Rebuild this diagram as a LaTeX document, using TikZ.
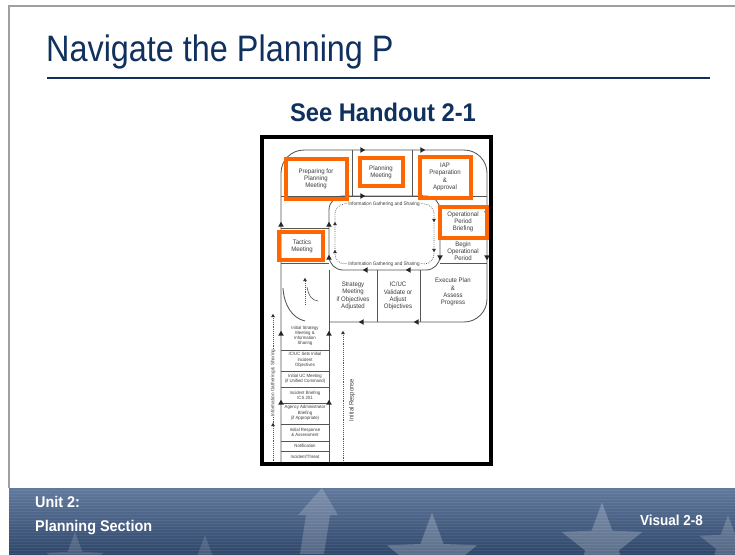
\documentclass[tikz,border=0pt]{standalone}
\usepackage{fontspec}
\setmainfont{Liberation Sans}
\newfontfamily\narrowf[FakeStretch=0.88]{Liberation Sans}
\newfontfamily\semif[FakeStretch=0.93]{Liberation Sans}
\usetikzlibrary{shapes.geometric}
\definecolor{navy}{RGB}{16,48,94}
\definecolor{orng}{RGB}{255,102,0}
\definecolor{ln}{RGB}{85,85,85}
\definecolor{txg}{RGB}{60,60,60}
\definecolor{ftblue}{RGB}{58,88,132}
\begin{document}
\begin{tikzpicture}[x=1pt,y=-1pt,
  pl/.style={draw=ln,line width=0.85pt},
  dotl/.style={draw=ln,line width=0.7pt,dash pattern=on 0.7pt off 1.2pt},
  ob/.style={draw=orng,line width=3.6pt},
  ct/.style={font=\semif\fontsize{6.5}{7.3}\selectfont,text=txg,align=center,inner sep=0pt},
  st/.style={font=\semif\fontsize{4.6}{5.2}\selectfont,text=txg,align=center,inner sep=0pt},
  rt/.style={font=\semif\fontsize{5}{5}\selectfont,text=txg,inner sep=0.8pt,fill=white},
  tri/.pic={\fill[black!85] (0:3.2) -- (120:3.2) -- (240:3.2) -- cycle;},
  stri/.pic={\fill[black!80] (0:2.2) -- (120:2.2) -- (240:2.2) -- cycle;},
  ftxt/.style={text=white,font=\semif\bfseries\fontsize{15.5}{15.5}\selectfont,inner sep=0pt}
]
\useasboundingbox (0,0) rectangle (735,554);
\fill[white] (0,0) rectangle (735,554);

% slide frame
\draw[gray!75,line width=2pt] (9,488) -- (9,6) -- (736,6);

% title
\node[anchor=west,text=navy,font=\narrowf\fontsize{36.8}{36.8}\selectfont,inner sep=0pt] (title) at (46,52) {Navigate the Planning P};
\draw[navy,line width=2.5pt] (47,78) -- (710,78);
\node[text=navy,font=\semif\bfseries\fontsize{25.5}{25.5}\selectfont,inner sep=0pt] (handout) at (383,112) {See Handout 2-1};

% ---------- Planning P image ----------
% outer P
\draw[pl,rounded corners=23pt] (281,462) -- (281,150) -- (487,150) -- (487,322) -- (329,322);
\draw[pl] (329,270) -- (329,462);
% hole
\draw[pl,rounded corners=14pt] (329,196) rectangle (440,270);
% top row
\draw[pl] (281,196) -- (487,196);
\draw[pl] (352,150) -- (352,196);
\draw[pl] (412,150) -- (412,196);
% left column
\draw[pl] (281,228) -- (329,228);
\draw[pl] (281,263) -- (329,263);
% right column
\draw[pl] (440,239) -- (487,239);
\draw[pl] (440,263) -- (487,263);
% bottom row
\draw[pl] (377,270) -- (377,322);
\draw[pl] (420,270) -- (420,322);
% stem rows
\foreach \yy in {350,371,387,403,424,441,451} \draw[pl] (281,\yy) -- (329,\yy);

% dotted inner ring
\draw[dotl,rounded corners=10pt] (335,204) rectangle (434,264);
\node[rt] (igs1) at (384,204) {\textendash{} Information Gathering and Sharing \textendash};
\node[rt] (igs2) at (384,264) {\textendash{} Information Gathering and Sharing \textendash};

% side dotted lines
\draw[dotl] (273,316) -- (273,462);
\draw[dotl] (343,333) -- (343,462);
\node[rt,rotate=90] (igs3) at (273,383) {Information Gathering \& Sharing};
\node[rt,rotate=90,font=\semif\fontsize{6.4}{6.4}\selectfont] (ir) at (352,400) {Initial Response};

% small graph icon
\draw[dotl] (305,281) -- (305,305);
\draw[ln,line width=0.6pt] (307,287) .. controls (309,297) and (312,300) .. (318,301);
\draw[pl] (283,288) .. controls (284,305) and (292,318) .. (305,321);
\pic[rotate=90] at (305,280) {stri};

% arrows
\pic at (362,150) {tri};
\pic at (422,150) {tri};
\pic at (362,196) {tri};
\pic at (420,196) {tri};
\pic[rotate=90] at (281,225) {tri};
\pic[rotate=90] at (329,225) {tri};
\pic[rotate=90] at (329,258) {tri};
\pic[rotate=90] at (335,224) {stri};
\pic[rotate=90] at (335,252) {stri};
\pic[rotate=-90] at (434,220) {stri};
\pic[rotate=-90] at (434,250) {stri};
\pic[rotate=-90] at (440,257) {tri};
\pic[rotate=-90] at (487,257) {tri};
\pic[rotate=-90] at (487,213) {tri};
\pic[rotate=180] at (366,270) {tri};
\pic[rotate=180] at (409,270) {tri};
\pic[rotate=180] at (362,322) {tri};
\pic[rotate=180] at (417,322) {tri};
\pic[rotate=90] at (281,334) {tri};
\pic[rotate=90] at (329,334) {tri};
\pic[rotate=90] at (281,403) {tri};
\pic[rotate=90] at (329,403) {tri};
\pic[rotate=90] at (273,316) {stri};
\pic[rotate=90] at (273,425) {stri};
\pic[rotate=90] at (343,333) {stri};

% cell texts
\node[ct] (prep) at (316,179) {Preparing for\\Planning\\Meeting};
\node[ct] (plan) at (381,172) {Planning\\Meeting};
\node[ct] (iap) at (445,177) {IAP\\Preparation\\\&\\Approval};
\node[ct] (opb) at (463,222) {Operational\\Period\\Briefing};
\node[ct] (bop) at (463,251) {Begin\\Operational\\Period};
\node[ct] (tac) at (302,246) {Tactics\\Meeting};
\node[ct] (strat) at (353,296) {Strategy\\Meeting\\if Objectives\\Adjusted};
\node[ct] (icuc) at (398,296) {IC/UC\\Validate or\\Adjust\\Objectives};
\node[ct] (exec) at (453,292) {Execute Plan\\\&\\Assess\\Progress};
% stem texts
\node[st] (s1) at (305,336) {Initial Strategy\\Meeting \&\\Information\\Sharing};
\node[st] (s2) at (305,360) {IC/UC Sets Initial\\Incident\\Objectives};
\node[st] (s3) at (305,379) {Initial UC Meeting\\(if Unified Command)};
\node[st] (s4) at (305,395) {Incident Briefing\\ICS 201};
\node[st] (s5) at (305,413) {Agency Administrator\\Briefing\\(if Appropriate)};
\node[st] (s6) at (305,432) {Initial Response\\\& Assessment};
\node[st] (s7) at (305,446) {Notification};
\node[st] (s8) at (305,457) {Incident/Threat};

% orange highlight boxes
\draw[ob] (286,159) rectangle (347,199);
\draw[ob] (360,158) rectangle (403,186);
\draw[ob] (420,157) rectangle (471,198);
\draw[ob] (440,207) rectangle (487,238);
\draw[ob] (279,232) rectangle (323,260);

% image frame
\draw[black,line width=4pt] (262,137) rectangle (491,464);

% ---------- footer ----------
\shade[top color=ftblue!80!white,bottom color=ftblue!80!black] (9,488) rectangle (736,554);
\foreach \yy in {490,493,...,554} \draw[white,opacity=0.07,line width=1pt] (9,\yy) -- (736,\yy);
\begin{scope}
\clip (9,488) rectangle (736,554);
\node[star,star points=5,star point ratio=2.4,fill=white,opacity=0.22,minimum size=95pt] at (432,560) {};
\node[star,star points=5,star point ratio=2.4,fill=white,opacity=0.22,minimum size=85pt] at (602,545) {};
\node[star,star points=5,star point ratio=2.4,fill=white,opacity=0.18,minimum size=60pt] at (728,545) {};
\node[star,star points=5,star point ratio=2.4,fill=white,opacity=0.15,minimum size=60pt] at (75,562) {};
\node[star,star points=5,star point ratio=2.4,fill=white,opacity=0.13,minimum size=60pt] at (205,565) {};
\fill[white,opacity=0.18] (300,554) -- (306,515) -- (298,515) -- (322,488) -- (338,515) -- (330,515) -- (324,554) -- cycle;
\end{scope}
\node[ftxt,anchor=west] (unit) at (35,502) {Unit 2:};
\node[ftxt,anchor=west] (sect) at (35,528) {Planning Section};
\node[ftxt,anchor=east,font=\semif\bfseries\fontsize{14.5}{14.5}\selectfont] (vis) at (703,520) {Visual 2-8};
\end{tikzpicture}
\end{document}
